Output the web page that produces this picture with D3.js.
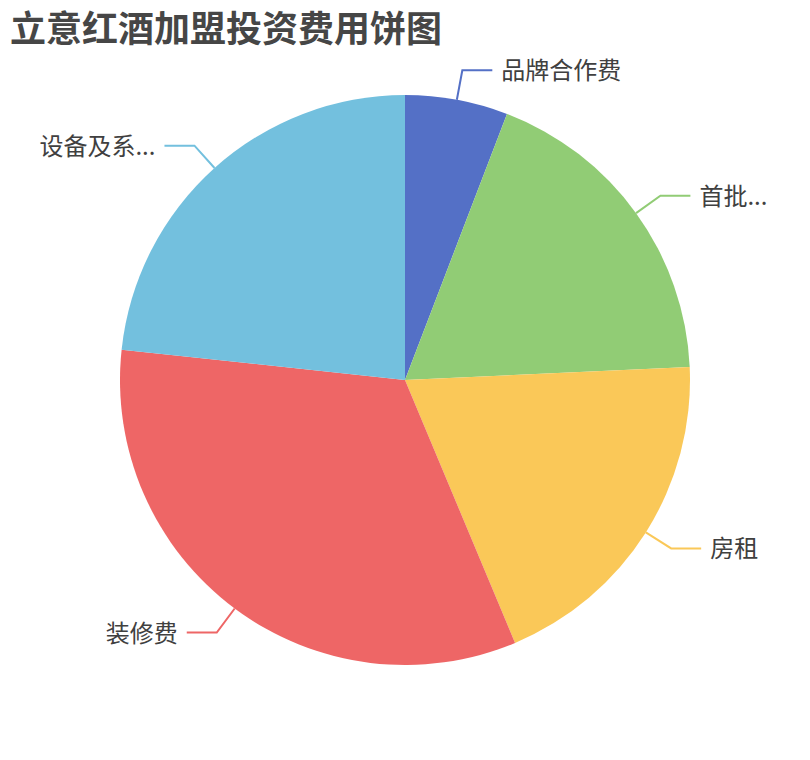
<!DOCTYPE html>
<html>
<head>
<meta charset="utf-8">
<script src="https://cdn.jsdelivr.net/npm/d3@7"></script>
<style>
  html, body { margin: 0; padding: 0; background: #fff; }
  svg { display: block; font-family: "Noto Sans CJK SC", "Noto Sans", sans-serif; }
</style>
</head>
<body>
<svg id="chart" width="810" height="760"></svg>
<script>
// chart data
var titleText = "立意红酒加盟投资费用饼图";
var labels = ["品牌合作费", "首批...", "房租", "装修费", "设备及系..."];
var values = [3, 9.5, 10, 17, 12];
var colors = ["#5470c6", "#91cc75", "#fac858", "#ee6666", "#73c0de"];

var W = 810, H = 760;
var cx = 405, cy = 380, R = 285;
var LEN1 = 30, LEN2 = 30, GAP = 9;

var svg = d3.select("#chart");

svg.append("text")
  .attr("x", 10).attr("y", 42)
  .attr("font-size", "36px")
  .attr("font-weight", "bold")
  .attr("fill", "#464646")
  .text(titleText);

var data = labels.map(function (l, i) { return { label: l, value: values[i], color: colors[i] }; });

var pie = d3.pie().sort(null).value(function (d) { return d.value; });
var arc = d3.arc().innerRadius(0).outerRadius(R);
var arcs = pie(data);

var g = svg.append("g").attr("transform", "translate(" + cx + "," + cy + ")");

g.selectAll("path.slice")
  .data(arcs)
  .enter().append("path")
  .attr("class", "slice")
  .attr("d", arc)
  .attr("fill", function (d) { return d.data.color; });

// label lines: edge -> outward point -> horizontal segment
function pt(a, r) { return [Math.sin(a) * r, -Math.cos(a) * r]; }

arcs.forEach(function (d) {
  var mid = (d.startAngle + d.endAngle) / 2;
  var p1 = pt(mid, R);
  var p2 = pt(mid, R + LEN1);
  var right = Math.sin(mid) >= 0;
  var p3 = [p2[0] + (right ? LEN2 : -LEN2), p2[1]];

  g.append("polyline")
    .attr("points", [p1, p2, p3].map(function (p) { return p.join(","); }).join(" "))
    .attr("fill", "none")
    .attr("stroke", d.data.color)
    .attr("stroke-width", 2);

  g.append("text")
    .attr("x", p3[0] + (right ? GAP : -GAP))
    .attr("y", p3[1] - 1.5)
    .attr("text-anchor", right ? "start" : "end")
    .attr("dominant-baseline", "central")
    .attr("font-size", "24px")
    .attr("fill", "#404040")
    .text(d.data.label);
});
</script>
</body>
</html>
